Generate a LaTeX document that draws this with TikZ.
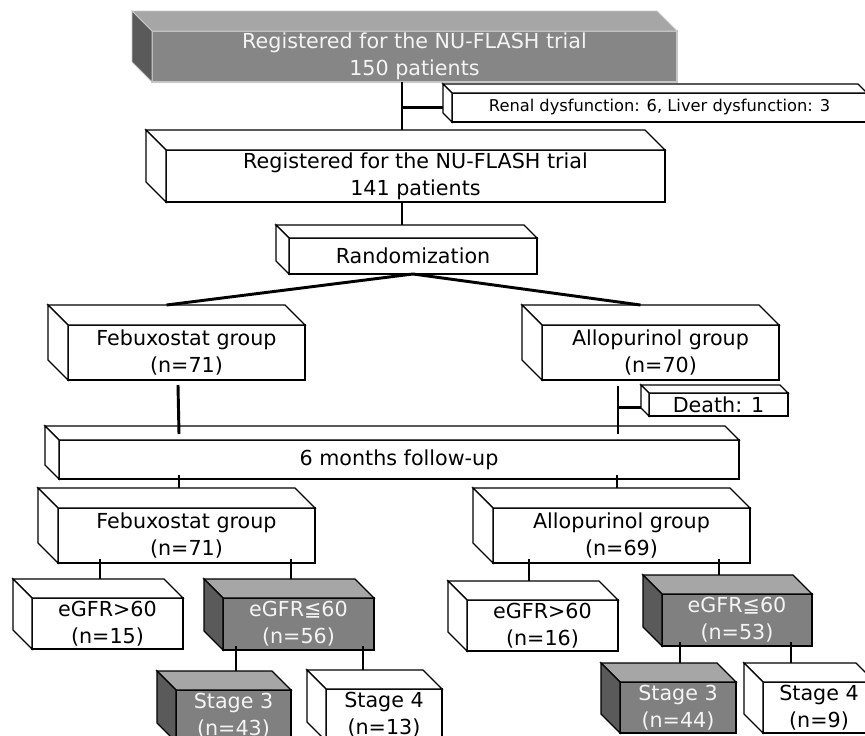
\documentclass[tikz,border=0pt]{standalone}
\usepackage{fontspec}
\setmainfont{DejaVu Sans}
\usetikzlibrary{calc}

\definecolor{boxfront}{HTML}{808080}
\definecolor{boxtop}{HTML}{A6A6A6}
\definecolor{boxside}{HTML}{5A5A5A}
\definecolor{boxtext}{HTML}{F4F4F4}

\tikzset{
  box/.style={draw=black, line width=1pt, fill=white, inner sep=0pt, outer sep=0pt,
    align=center, font=\fontsize{15.5}{20}\selectfont},
  darkbox/.style={box, fill=boxfront, text=boxtext},
  size/.style 2 args={minimum width=#1*0.75pt, minimum height=#2*0.75pt},
  small/.style={font=\fontsize{12.2}{15}\selectfont},
  face/.style={draw=black, line width=1pt, fill=white},
  darkface/.style={draw=black, line width=1pt},
  link/.style={line width=2.2pt},
}

\begin{document}
\begin{tikzpicture}[x=0.75pt, y=-0.75pt]
  \useasboundingbox (0,0) rectangle (865,736);
  \clip (0,0) rectangle (865,736);

  % front faces of the boxes
  \node[darkbox, draw=gray!45, fill=boxfront!95!white, size={525}{51}] (reg) at (414.5,56.5)
    {Registered for the NU-FLASH trial\\150 patients};
  \node[box, small, size={415}{29}] (excl) at (659.5,107.5)
    {Renal dysfunction: 6, Liver dysfunction: 3};
  \node[box, size={499}{52}] (reg2) at (415.5,176)
    {Registered for the NU-FLASH trial\\141 patients};
  \node[box, size={248}{36}] (rand) at (413,256) {Randomization};
  \node[box, size={237}{55}] (feb1) at (186.5,352.5) {Febuxostat group\\(n=71)};
  \node[box, size={237}{55}] (allo1) at (660.5,352.5) {Allopurinol group\\(n=70)};
  \node[box, size={139}{23}] (death) at (718.5,404.5) {Death: 1};
  \node[box, size={680}{39}] (fu) at (399,459.5) {6 months follow-up};
  \node[box, size={257}{55}] (feb2) at (186.5,535.5) {Febuxostat group\\(n=71)};
  \node[box, size={257}{55}] (allo2) at (621.5,535.5) {Allopurinol group\\(n=69)};
  \node[box, size={151}{51}] (hiL) at (107.5,623.5) {eGFR>60\\(n=15)};
  \node[darkbox, size={151}{52}] (loL) at (298.5,624) {eGFR≦60\\(n=56)};
  \node[darkbox, size={115}{52}] (s3L) at (233.5,716) {Stage 3\\(n=43)};
  \node[box, size={116}{52}] (s4L) at (384,715) {Stage 4\\(n=13)};
  \node[box, size={151}{51}] (hiR) at (542.5,625.5) {eGFR>60\\(n=16)};
  \node[darkbox, size={150}{52}] (loR) at (737,620) {eGFR≦60\\(n=53)};
  \node[darkbox, size={116}{51}] (s3R) at (678,707.5) {Stage 3\\(n=44)};
  \node[box, size={112}{51}] (s4R) at (819,707.5) {Stage 4\\(n=9)};

  % top and side faces
  \foreach \n/\d in {excl/9, reg2/20, rand/13, feb1/20, allo1/20, death/8, fu/14,
                     feb2/20, allo2/20, hiL/19, s4L/19, hiR/19, s4R/19}
  {
    \draw[face] (\n.north west) -- ++(-\d,-\d) -- ($(\n.north east)+(-\d,-\d)$) -- (\n.north east) -- cycle;
    \draw[face] (\n.north west) -- ++(-\d,-\d) -- ($(\n.south west)+(-\d,-\d)$) -- (\n.south west) -- cycle;
    \coordinate (\n-back) at ($(\n.north)+(-\d,-\d)$);
  }
  \foreach \n/\d in {loL/19, s3L/19, loR/19, s3R/19}
  {
    \draw[darkface, fill=boxtop] (\n.north west) -- ++(-\d,-\d) -- ($(\n.north east)+(-\d,-\d)$) -- (\n.north east) -- cycle;
    \draw[darkface, fill=boxside] (\n.north west) -- ++(-\d,-\d) -- ($(\n.south west)+(-\d,-\d)$) -- (\n.south west) -- cycle;
    \coordinate (\n-back) at ($(\n.north)+(-\d,-\d)$);
  }
  \draw[draw=gray!45, line width=0.6pt, fill=boxtop] (reg.north west) -- ++(-20,-20) -- ($(reg.north east)+(-20,-20)$) -- (reg.north east) -- cycle;
  \draw[draw=gray!45, line width=0.6pt, fill=boxside] (reg.north west) -- ++(-20,-20) -- ($(reg.south west)+(-20,-20)$) -- (reg.south west) -- cycle;

  % connectors
  \draw[link] (402,0 |- reg.south) -- (402,0 |- reg2-back);
  \draw[link] (402,0 |- excl.west) -- ($(excl.west)+(-9,0)$);
  \draw[link] (402,0 |- reg2.south) -- (402,0 |- rand-back);
  \draw[link] (feb1-back) -- (rand.south) -- (allo1-back);
  \draw[link] ($(178,0 |- feb1.south)+(0,5)$) -- ($(179,0 |- fu-back)+(0,8)$);
  \draw[link] ($(618,0 |- allo1.south)+(0,6)$) -- ($(618,0 |- fu-back)+(0,8)$);
  \draw[link] ($(618,0 |- death.west)+(0,3)$) -- ($(death.west)+(-8,3)$);
  \foreach \a/\b/\x in {fu/feb2/179, fu/allo2/617, feb2/hiL/100, feb2/loL/291,
                        allo2/hiR/529, allo2/loR/719, loL/s3L/236, loL/s4L/363,
                        loR/s3R/680, loR/s4R/791}
    \draw[link] ($(\x,0 |- \a.south)+(0,-4)$) -- (\x,0 |- \b-back);
\end{tikzpicture}
\end{document}
